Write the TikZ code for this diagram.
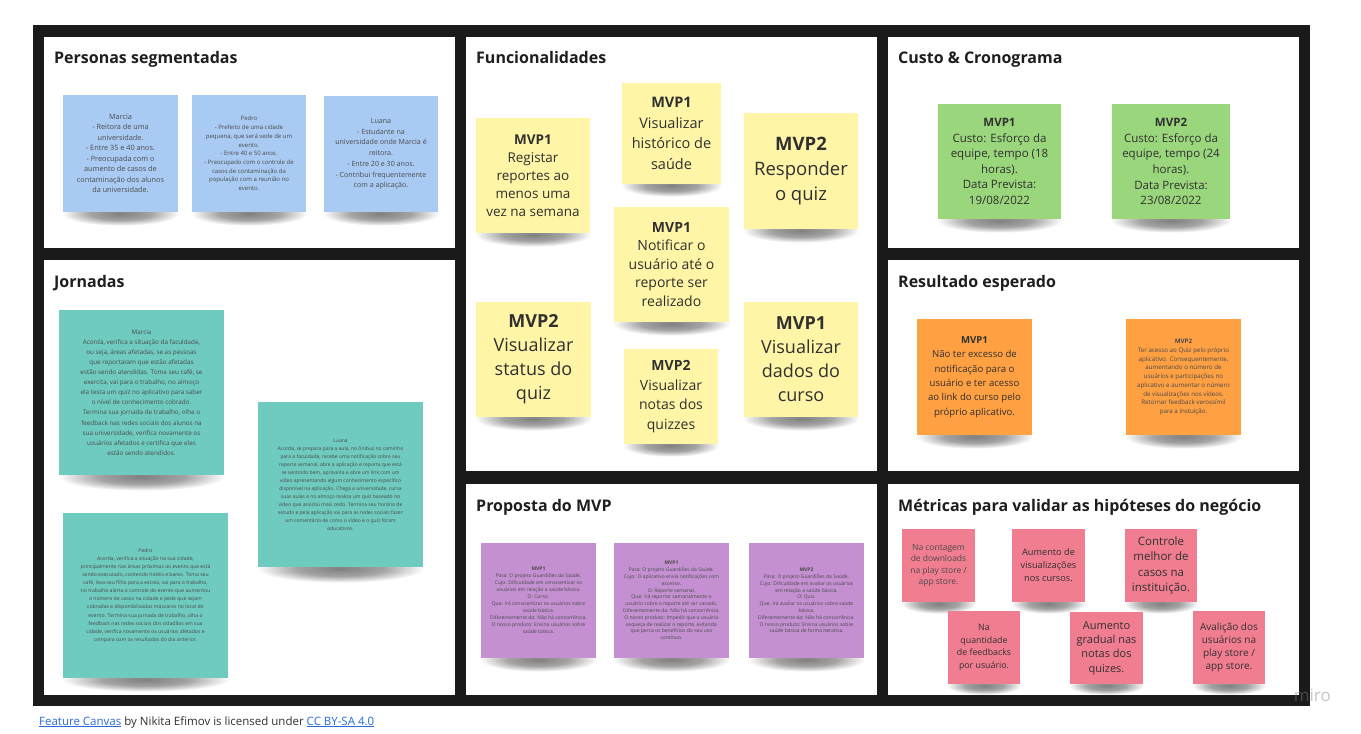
\documentclass[tikz,border=0pt]{standalone}
\usepackage{fontspec}
\setmainfont{Open Sans}
\usetikzlibrary{calc}
\pgfdeclarelayer{back}
\pgfdeclarelayer{shadowlayer}
\pgfsetlayers{back,shadowlayer,main}
\pgfdeclareradialshading{notesh}{\pgfpoint{0bp}{0bp}}{color(0bp)=(black!50); color(13bp)=(black!36); color(25bp)=(white); color(50bp)=(white)}
\newcommand\fsz[2]{\fontsize{#1}{#2}\selectfont}
\definecolor{framec}{HTML}{1A1A1A}
\definecolor{titlec}{HTML}{1E1E1E}
\definecolor{notetext}{HTML}{303030}
\definecolor{smalltext}{HTML}{4A4A4A}
\definecolor{bluen}{HTML}{A9CBF3}
\definecolor{tealn}{HTML}{6FCBBF}
\definecolor{yellown}{HTML}{FEF5A6}
\definecolor{greenn}{HTML}{9AD67C}
\definecolor{orangen}{HTML}{FFA043}
\definecolor{purplen}{HTML}{C490D1}
\definecolor{pinkn}{HTML}{F17E90}
\definecolor{linkc}{HTML}{2A6AD8}
\begin{document}
\begin{tikzpicture}[x=1pt,y=-1pt,
  panel/.style={fill=white,draw=none},
  ptitle/.style={anchor=base west,font=\fsz{16}{18}\bfseries,text=titlec,inner sep=0},
  note/.style={align=center,inner sep=0,text=notetext},
  small/.style={text=smalltext}]
\useasboundingbox (0,0) rectangle (1361,734);
\begin{pgfonlayer}{back}
\fill[white] (0,0) rectangle (1361,734);
% frame
\fill[framec] (33,25) rectangle (1310,706);
% panels
\fill[panel] (44,37) rectangle (455,248);
\fill[panel] (44,260) rectangle (455,695);
\fill[panel] (466,37) rectangle (877,471);
\fill[panel] (466,484) rectangle (877,695);
\fill[panel] (888,37) rectangle (1299,248);
\fill[panel] (888,260) rectangle (1299,471);
\fill[panel] (888,484) rectangle (1299,695);
\end{pgfonlayer}
% titles
\node[ptitle] (t1) at (54,63) {Personas segmentadas};
\node[ptitle] (t2) at (54,287) {Jornadas};
\node[ptitle] (t3) at (476,63) {Funcionalidades};
\node[ptitle] (t4) at (476,511) {Proposta do MVP};
\node[ptitle] (t5) at (898,63) {Custo \& Cronograma};
\node[ptitle] (t6) at (898,287) {Resultado esperado};
\node[ptitle] (t7) at (898,511) {Métricas para validar as hipóteses do negócio};

% Personas
\node[note,small,fill=bluen,minimum width=115,minimum height=117,font=\fsz{7.3}{10.5}] (pM) at (120.5,153.5)
 {Marcia\\- Reitora de uma\\universidade.\\- Entre 35 e 40 anos.\\- Preocupada com o\\aumento de casos de\\contaminação dos alunos\\da universidade.};
\node[note,small,fill=bluen,minimum width=114,minimum height=117,font=\fsz{6}{8.7}] (pP) at (249,153.5)
 {Pedro\\- Prefeito de uma cidade\\pequena, que será sede de um\\evento.\\- Entre 40 e 50 anos.\\- Preocupado com o controle de\\casos de contaminação da\\população com a reunião no\\evento.};
\node[note,small,fill=bluen,minimum width=114,minimum height=116,font=\fsz{7.1}{10.7}] (pL) at (381,154)
 {Luana\\- Estudante na\\universidade onde Marcia é\\reitora.\\- Entre 20 e 30 anos.\\- Contribui frequentemente\\com a aplicação.};

% Jornadas
\node[note,small,fill=tealn,minimum width=165,minimum height=165,font=\fsz{6.3}{10.1}] (jM) at (141.5,392.5)
 {Marcia\\Acorda, verifica a situação da faculdade,\\ou seja, áreas afetadas, se as pessoas\\que reportaram que estão afetadas\\estão sendo atendidas. Toma seu café, se\\exercita, vai para o trabalho, no almoço\\ela testa um quiz no aplicativo para saber\\o nível de conhecimento cobrado.\\Termina sua jornada de trabalho, olha o\\feedback nas redes sociais dos alunos na\\sua universidade, verifica novamente os\\usuários afetados e certifica que eles\\estão sendo atendidos.};
\node[note,small,fill=tealn,minimum width=165,minimum height=165,font=\fsz{5}{8}] (jL) at (340.5,484.5)
 {Luana\\Acorda, se prepara para a aula, no ônibus no caminho\\para a faculdade, recebe uma notificação sobre seu\\reporte semanal, abre a aplicação e reporta que está\\se sentindo bem, aproveita e abre um link com um\\vídeo apresentando algum conhecimento específico\\disponível na aplicação. Chega a universidade, cursa\\suas aulas e no almoço realiza um quiz baseado no\\vídeo que assistiu mais cedo. Termina seu horário de\\estudo e pela aplicação vai para as redes sociais fazer\\um comentário de como o vídeo e o quiz foram\\educativos.};
\node[note,small,fill=tealn,minimum width=165,minimum height=165,font=\fsz{5.1}{8.1}] (jP) at (145.5,595.5)
 {Pedro\\Acorda, verifica a situação na sua cidade,\\principalmente nas áreas próximas ao evento que está\\sendo executado, contendo hotéis e bares. Toma seu\\café, leva seu filho para a escola, vai para o trabalho,\\no trabalho alerta o controle do evento que aumentou\\o número de casos na cidade e pede que sejam\\cobradas e disponibilizadas máscaras no local do\\evento. Termina sua jornada de trabalho, olha o\\feedback nas redes sociais dos cidadãos em sua\\cidade, verifica novamente os usuários afetados e\\compara com os resultados do dia anterior.};

% Funcionalidades
\node[note,fill=yellown,minimum width=114,minimum height=115,font=\fsz{13.5}{18}] (f1) at (533,175.5)
 {\textbf{MVP1}\\Registar\\reportes ao\\menos uma\\vez na semana};
\node[note,fill=yellown,minimum width=99,minimum height=101,font=\fsz{14.5}{20.5}] (f2) at (671.5,133.5)
 {\textbf{MVP1}\\Visualizar\\histórico de\\saúde};
\node[note,fill=yellown,minimum width=114,minimum height=116,font=\fsz{18.5}{25}] (f3) at (801,171)
 {\textbf{MVP2}\\Responder\\o quiz};
\node[note,fill=yellown,minimum width=115,minimum height=115,font=\fsz{14}{18.5}] (f4) at (671.5,264.5)
 {\textbf{MVP1}\\Notificar o\\usuário até o\\reporte ser\\realizado};
\node[note,fill=yellown,minimum width=115,minimum height=115,font=\fsz{18}{24}] (f5) at (533.5,359.5)
 {\textbf{MVP2}\\Visualizar\\status do\\quiz};
\node[note,fill=yellown,minimum width=94,minimum height=95,font=\fsz{14}{19.7}] (f6) at (671,396.5)
 {\textbf{MVP2}\\Visualizar\\notas dos\\quizzes};
\node[note,fill=yellown,minimum width=114,minimum height=115,font=\fsz{18}{24}] (f7) at (801,359.5)
 {\textbf{MVP1}\\Visualizar\\dados do\\curso};

% Custo
\node[note,fill=greenn,minimum width=123,minimum height=115,font=\fsz{11.5}{15.6}] (c1) at (999.5,161.5)
 {\textbf{MVP1}\\Custo: Esforço da\\equipe, tempo (18\\horas).\\Data Prevista:\\19/08/2022};
\node[note,fill=greenn,minimum width=118,minimum height=115,font=\fsz{11.5}{15.6}] (c2) at (1171,161.5)
 {\textbf{MVP2}\\Custo: Esforço da\\equipe, tempo (24\\horas).\\Data Prevista:\\23/08/2022};

% Resultado
\node[note,fill=orangen,minimum width=115,minimum height=116,font=\fsz{9.6}{14.3}] (r1) at (974.5,377)
 {\textbf{MVP1}\\Não ter excesso de\\notificação para o\\usuário e ter acesso\\ao link do curso pelo\\próprio aplicativo.};
\node[note,small,fill=orangen,minimum width=115,minimum height=116,font=\fsz{6.2}{8.75}] (r2) at (1183.5,377)
 {\textbf{MVP2}\\Ter acesso ao Quiz pelo próprio\\aplicativo. Consequentemente,\\aumentando o número de\\usuários e participações no\\aplicativo e aumentar o número\\de visualizações nos vídeos.\\Retornar feedback verossímil\\para a instuição.};

% Proposta
\node[note,small,fill=purplen,minimum width=115,minimum height=115,font=\fsz{5}{7}] (pr1) at (538.5,600.5)
 {\textbf{MVP1}\\Para: O projeto Guardiões da Saúde.\\Cujo: Dificuldade em conscientizar os\\usuários em relação a saúde básica.\\O: Curso.\\Que: Irá conscientizar os usuários sobre\\saúde básica.\\Diferentemente da: Não há concorrência.\\O nosso produto: Ensina usuários sobre\\saúde básica.};
\node[note,small,fill=purplen,minimum width=115,minimum height=115,font=\fsz{5}{6.8}] (pr2) at (671.5,600.5)
 {\textbf{MVP1}\\Para: O projeto Guardiões da Saúde.\\Cujo: O aplicativo envia notificações com\\excesso.\\O: Reporte semanal.\\Que: Irá reportar semanalmente o\\usuário sobre o reporte até ser sanado.\\Diferentemente da: Não há concorrência.\\O nosso produto: Impedir que o usuário\\esqueça de realizar o reporte, evitando\\que perca os benefícios do seu uso\\contínuo.};
\node[note,small,fill=purplen,minimum width=115,minimum height=115,font=\fsz{5}{6.8}] (pr3) at (806.5,600.5)
 {\textbf{MVP2}\\Para: O projeto Guardiões da Saúde.\\Cujo: Dificuldade em avaliar os usuários\\em relação a saúde básica.\\O: Quiz.\\Que: Irá avaliar os usuários sobre saúde\\básica.\\Diferentemente da: Não há concorrência.\\O nosso produto: Ensina usuários sobre\\saúde básica de forma iterativa.};

% Metricas
\node[note,small,fill=pinkn,minimum width=73,minimum height=73,font=\fsz{8.5}{11.6}] (m1) at (938.5,565.5)
 {Na contagem\\de downloads\\na play store /\\app store.};
\node[note,fill=pinkn,minimum width=73,minimum height=73,font=\fsz{9.2}{13}] (m2) at (1048.5,565.5)
 {Aumento de\\visualizações\\nos cursos.};
\node[note,fill=pinkn,minimum width=72,minimum height=73,font=\fsz{11.5}{15.2}] (m3) at (1161,565.5)
 {Controle\\melhor de\\casos na\\instituição.};
\node[note,fill=pinkn,minimum width=72,minimum height=73,font=\fsz{8.8}{12.7}] (m4) at (984,647.5)
 {Na\\quantidade\\de feedbacks\\por usuário.};
\node[note,fill=pinkn,minimum width=73,minimum height=72,font=\fsz{11}{14.4}] (m5) at (1106.5,648)
 {Aumento\\gradual nas\\notas dos\\quizes.};
\node[note,fill=pinkn,minimum width=72,minimum height=73,font=\fsz{10}{12.8}] (m6) at (1229,647.5)
 {Avalição dos\\usuários na\\play store /\\app store.};

% shadows under the notes
\begin{pgfonlayer}{shadowlayer}
\foreach \nm/\rr in {pM/12,pP/12,pL/12,jM/14,jL/14,jP/12,f1/12,f2/11,f3/12,f4/12,f5/12,f6/11,f7/12,c1/12,c2/12,r1/12,r2/12,pr1/12,pr2/12,pr3/12,m1/10,m2/10,m3/10,m4/9,m5/9,m6/9}{
  \shade[shading=notesh] let \p1=(\nm.south west), \p2=(\nm.south east), \n1={(\x2-\x1)/2+1pt} in
    ($(\nm.south)+(0,1.5)$) ellipse [x radius=\n1, y radius=\rr pt];
}
\end{pgfonlayer}

% miro mark
\node[anchor=base east,inner sep=0,font=\fsz{17}{18},text=gray,opacity=0.45] (miro) at (1331,701) {miro};

% footer
\node[anchor=base west,inner sep=0,font=\fsz{11.5}{13},text=notetext] (foot) at (39,725)
 {\textcolor{linkc}{\underline{Feature Canvas}} by Nikita Efimov is licensed under \textcolor{linkc}{\underline{CC BY-SA 4.0}}};
\end{tikzpicture}
\end{document}
